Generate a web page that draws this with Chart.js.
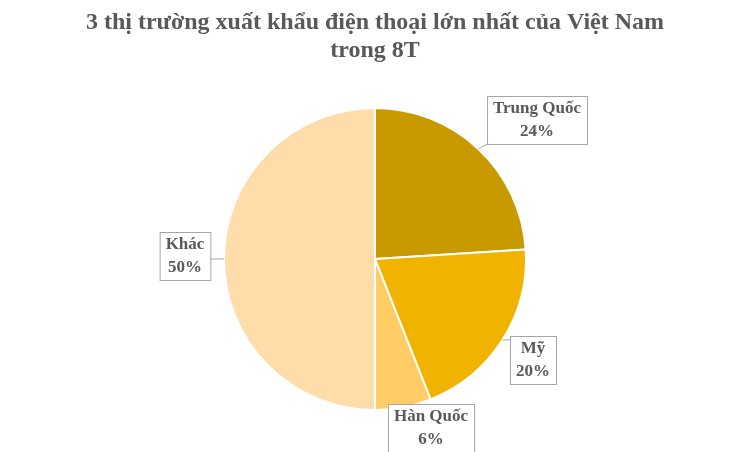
<!DOCTYPE html>
<html>
<head>
<meta charset="utf-8">
<script src="https://cdn.jsdelivr.net/npm/chart.js@4"></script>
<style>
  html, body { margin: 0; padding: 0; background: #fff; }
  #wrap { width: 750px; height: 452px; }
</style>
</head>
<body>
<div id="wrap"><canvas id="pieChart"></canvas></div>
<script>
const categories = ['Trung Quốc', 'Mỹ', 'Hàn Quốc', 'Khác'];
const shares = [24, 20, 6, 50];
const sliceColors = ['#C89A00', '#F0B400', '#FFCC66', '#FFDDAA'];
const titleLines = ['3 thị trường xuất khẩu điện thoại lớn nhất của Việt Nam', 'trong 8T'];

// label box centers (layout only)
const boxCenters = [[537, 120], [533, 360], [431, 428], [185, 256]];

const labelPlugin = {
  id: 'calloutLabels',
  afterDraw(chart) {
    const { ctx } = chart;
    ctx.save();
    ctx.fillStyle = '#595959';
    ctx.font = 'bold 24px "Liberation Serif", serif';
    ctx.textAlign = 'center';
    ctx.textBaseline = 'middle';
    ctx.fillText(titleLines[0], 375, 23);
    ctx.fillText(titleLines[1], 375, 51);

    const arcs = chart.getDatasetMeta(0).data;
    ctx.font = 'bold 17px "Liberation Serif", serif';
    arcs.forEach((arc, i) => {
      const [cx, cy] = boxCenters[i];
      const l1 = categories[i];
      const l2 = `${shares[i]}%`;
      const w = Math.max(ctx.measureText(l1).width, ctx.measureText(l2).width) + 12;
      const h = 48;
      const mid = (arc.startAngle + arc.endAngle) / 2;
      const ex = arc.x + Math.cos(mid) * arc.outerRadius;
      const ey = arc.y + Math.sin(mid) * arc.outerRadius;
      const bx = Math.min(Math.max(ex, cx - w / 2), cx + w / 2);
      const by = Math.min(Math.max(ey, cy - h / 2), cy + h / 2);
      ctx.strokeStyle = '#A6A6A6';
      ctx.lineWidth = 1;
      const inside = Math.hypot(bx - arc.x, by - arc.y) < arc.outerRadius;
      if (!inside && Math.hypot(ex - bx, ey - by) > 6) {
        ctx.beginPath();
        ctx.moveTo(bx, by);
        ctx.lineTo(ex, ey);
        ctx.stroke();
      }
      ctx.fillStyle = '#fff';
      ctx.fillRect(cx - w / 2, cy - h / 2, w, h);
      ctx.strokeRect(cx - w / 2 + 0.5, cy - h / 2 + 0.5, w, h);
      ctx.fillStyle = '#595959';
      ctx.fillText(l1, cx, cy - 11);
      ctx.fillText(l2, cx, cy + 12);
    });
    ctx.restore();
  },
};

function drawPie() {
  const config = {
    type: 'pie',
    data: {
      labels: categories,
      datasets: [{
        data: shares,
        backgroundColor: sliceColors,
        borderColor: '#ffffff',
        borderWidth: 2,
      }],
    },
    options: {
      responsive: true,
      maintainAspectRatio: false,
      animation: false,
      layout: { padding: { top: 107, bottom: 41 } },
      plugins: {
        legend: { display: false },
        title: { display: false },
        tooltip: { enabled: false },
      },
    },
    plugins: [labelPlugin],
  };
  return new Chart(document.getElementById('pieChart'), config);
}

drawPie();
</script>
</body>
</html>
